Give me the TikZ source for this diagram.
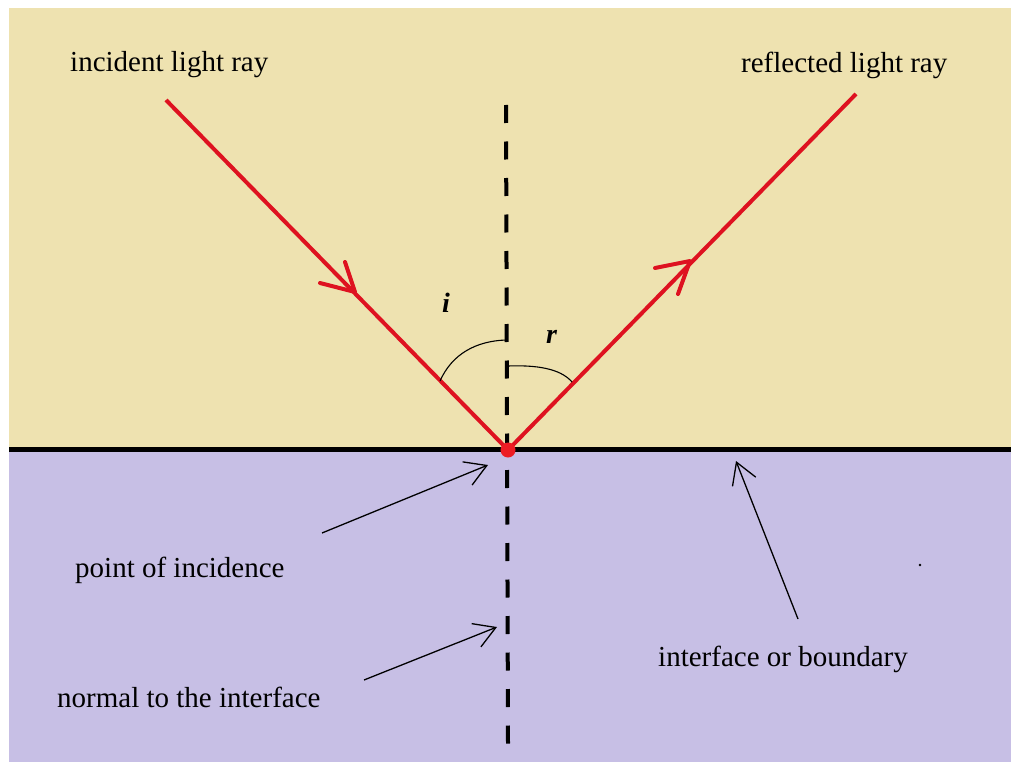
\documentclass[tikz,border=0pt]{standalone}
\usepackage{fontspec}
\setmainfont{Liberation Serif}
\usetikzlibrary{arrows.meta}
\definecolor{beige}{RGB}{238,226,176}
\definecolor{lav}{RGB}{199,191,229}
\definecolor{rayred}{RGB}{222,18,32}
\definecolor{dotred}{RGB}{237,28,36}
\begin{document}
\begin{tikzpicture}[x=1pt,y=-1pt,
  lbl/.style={anchor=base west,inner sep=0pt,font=\fontsize{29}{34}\selectfont},
  anglbl/.style={anchor=base west,inner sep=0pt,font=\fontsize{28}{34}\selectfont\bfseries\itshape},
  ray/.style={rayred,line width=4pt},
  chev/.style={rayred,line width=4pt,line cap=round,line join=round},
  ptr/.style={black,line width=1.3pt,-{Straight Barb[length=21pt,width=25pt,line width=1.3pt]}},
  angarc/.style={black,line width=1.1pt},
  normalline/.style={black,line width=4pt,dash pattern=on 18pt off 18.5pt}]
\useasboundingbox (0,0) rectangle (1011,762);
\fill[white] (0,0) rectangle (1011,762);
\fill[beige] (9,8) rectangle (1011,449);
\fill[lav] (9,449) rectangle (1011,762);
% interface
\coordinate (IL) at (9,449);
\coordinate (IR) at (1011,449);
\draw[line width=5pt] (IL) -- (IR);
% normal
\coordinate (NT) at (506,105);
\coordinate (NB) at (508,744);
\draw[normalline] (NT) -- (NB);
% rays
\coordinate (P) at (508,450);
\coordinate (inc) at (166,100);
\coordinate (refl) at (856,94);
\draw[ray] (inc) -- (P);
\draw[ray] (P) -- (refl);
% chevrons
\coordinate (c1a) at (320,283);
\coordinate (c1t) at (355,292);
\coordinate (c1b) at (345,262);
\draw[chev] (c1a) -- (c1t) -- (c1b);
\coordinate (c2a) at (655,268);
\coordinate (c2t) at (690,261);
\coordinate (c2b) at (678,294);
\draw[chev] (c2a) -- (c2t) -- (c2b);
% angle arcs
\coordinate (ia) at (440,381);
\coordinate (ib) at (506,340);
\draw[angarc] (ia) .. controls (452,354) and (476,341) .. (ib);
\coordinate (ra) at (508,366);
\coordinate (rb) at (572,382);
\draw[angarc] (ra) .. controls (535,365) and (560,368) .. (rb);
\node[anglbl] (ilbl) at (442,312) {i};
\node[anglbl] (rlbl) at (546,343) {r};
% point of incidence
\fill[dotred] (P) circle (7.5pt);
% labels
\node[lbl] (tinc) at (70,72) {incident light ray};
\node[lbl] (trefl) at (741,73) {reflected light ray};
\node[lbl] (tpoi) at (75,577) {point of incidence};
\node[lbl] (tnorm) at (57,707) {normal to the interface};
\node[lbl] (tint) at (658,666) {interface or boundary};
% pointer arrows
\coordinate (poiS) at (322,533);
\coordinate (poiE) at (488,465);
\draw[ptr] (poiS) -- (poiE);
\coordinate (norS) at (364,680);
\coordinate (norE) at (497,627);
\draw[ptr] (norS) -- (norE);
\coordinate (intS) at (798,619);
\coordinate (intE) at (736,461);
\draw[ptr] (intS) -- (intE);
% stray dot
\fill (920,565) circle (1.3pt);
\end{tikzpicture}
\end{document}
